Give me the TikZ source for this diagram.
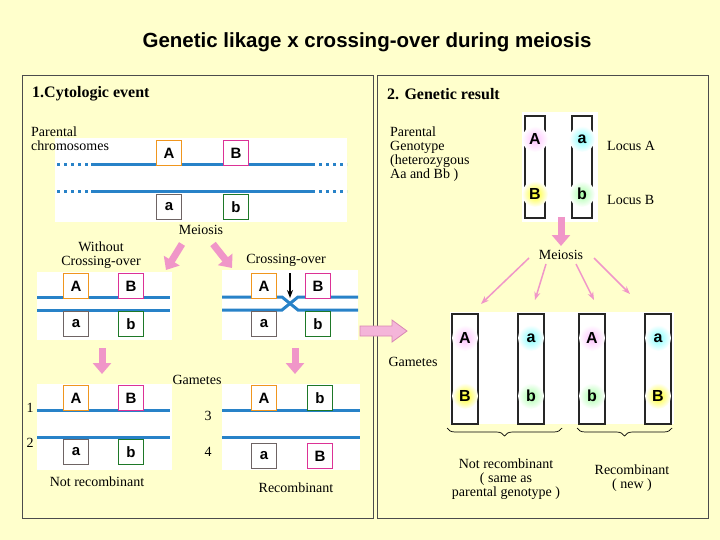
\documentclass[tikz,border=0pt]{standalone}
\usepackage{fontspec}
\setmainfont{Liberation Serif}
\newfontfamily\sansf{Liberation Sans}
\usetikzlibrary{arrows.meta,decorations.pathreplacing}
\definecolor{bgyel}{RGB}{255,255,204}
\definecolor{chrblue}{RGB}{40,130,200}
\definecolor{pinkar}{RGB}{240,150,200}
\definecolor{borange}{RGB}{240,150,30}
\definecolor{bmag}{RGB}{220,50,150}
\definecolor{bgray}{RGB}{110,100,100}
\definecolor{bgreen}{RGB}{30,120,40}
\tikzset{
  lbl/.style={font=\fontsize{14}{14}\selectfont, inner sep=0pt, align=left},
  gene/.style={draw=#1, line width=1.6pt, fill=white, minimum size=25pt, inner sep=0pt,
    font=\sansf\bfseries\fontsize{15}{15}\selectfont},
  chr/.style={chrblue, line width=3pt},
  dots/.style={chrblue, line width=3pt, dash pattern=on 3pt off 4pt},
  fat/.style={pinkar, line width=7pt, -{Triangle[width=18pt,length=11pt]}},
  thin/.style={pinkar, line width=1.5pt, -{Stealth[length=8pt]}},
  bar/.style={draw=black!85, line width=1.6pt, fill=white},
  glyph/.style={font=\sansf\bfseries\fontsize{16}{16}\selectfont, inner sep=0pt}
}
\newcommand\glowat[4]{% x,y,colour,letter
  \shade[inner color=#3, outer color=white] (#1,#2) circle (13);
  \node[glyph] at (#1,#2) {#4};}
\begin{document}
\begin{tikzpicture}[x=1pt,y=-1pt]
\fill[bgyel] (0,0) rectangle (720,540);
\useasboundingbox (0,0) rectangle (720,540);
\node[font=\sansf\bfseries\fontsize{20.5}{21}\selectfont] (title) at (367,42) {Genetic likage x crossing-over during meiosis};
\draw[black!70, line width=0.8pt] (22,75) rectangle (373,518);
\draw[black!70, line width=0.8pt] (377,75) rectangle (708,518);
\node[lbl, font=\bfseries\fontsize{16}{16}\selectfont, anchor=west] (h1) at (32,94) {1.Cytologic event};
\node[lbl, font=\bfseries\fontsize{16}{16}\selectfont, anchor=west] (h2) at (387,94) {2. Genetic result};

% parental chromosomes
\fill[white] (55,138) rectangle (347,222);
\node[lbl, anchor=north west] (par) at (31,127) {Parental\\chromosomes};
\draw[dots] (57,165) -- (88,165); \draw[chr] (91,165) -- (315,165); \draw[dots] (319,165) -- (347,165);
\draw[dots] (57,192) -- (88,192); \draw[chr] (91,192) -- (315,192); \draw[dots] (319,192) -- (347,192);
\node[gene=borange] (pA) at (169,153) {A};
\node[gene=bmag] (pB) at (236,153) {B};
\node[gene=bgray] (pa) at (169,207) {a};
\node[gene=bgreen] (pb) at (236,207) {b};
\node[lbl] (mei1) at (201,230) {Meiosis};
\draw[fat] (182,244) -- (166,270);
\draw[fat] (213,244) -- (232,268);

% without crossing-over
\fill[white] (37,272) rectangle (172,340);
\node[lbl, align=center] (wco) at (101,255) {Without\\Crossing-over};
\draw[chr] (37,297) -- (170,297); \draw[chr] (37,310) -- (170,310);
\node[gene=borange] (wA) at (76,286) {A};
\node[gene=bmag] (wB) at (131,286) {B};
\node[gene=bgray] (wa) at (76,324) {a};
\node[gene=bgreen] (wb) at (131,324) {b};

% crossing-over
\fill[white] (222,270) rectangle (358,340);
\node[lbl] (co) at (286,260) {Crossing-over};
\draw[chr] (222,297) -- (282,297) -- (298,310) -- (358,310);
\draw[chr] (222,310) -- (282,310) -- (298,297) -- (358,297);
\node[gene=borange] (cA) at (264,286) {A};
\node[gene=bmag] (cB) at (318,286) {B};
\node[gene=bgray] (ca) at (264,324) {a};
\node[gene=bgreen] (cb) at (318,324) {b};
\coordinate (xtop) at (290,273); \coordinate (xbot) at (290,298);
\draw[line width=1.5pt, -{Stealth[length=8pt]}] (xtop) -- (xbot);

\draw[fat] (102,348) -- (102,374);
\draw[fat] (295,348) -- (295,374);
\node[lbl] (gam1) at (197,380) {Gametes};

% gametes left
\fill[white] (37,384) rectangle (172,470);
\draw[chr] (37,410) -- (170,410); \draw[chr] (37,437) -- (170,437);
\node[gene=borange] (gA1) at (76,398) {A};
\node[gene=bmag] (gB1) at (131,398) {B};
\node[gene=bgray] (ga1) at (76,452) {a};
\node[gene=bgreen] (gb1) at (131,452) {b};
\node[lbl] (n1) at (30,408) {1};
\node[lbl] (n2) at (30,443) {2};
\node[lbl] (n3) at (208,416) {3};
\node[lbl] (n4) at (208,452) {4};
% gametes right
\fill[white] (222,384) rectangle (360,470);
\draw[chr] (222,410) -- (360,410); \draw[chr] (222,437) -- (360,437);
\node[gene=borange] (gA2) at (264,398) {A};
\node[gene=bgreen] (gb2) at (320,398) {b};
\node[gene=bgray] (ga2) at (264,456) {a};
\node[gene=bmag] (gB2) at (320,456) {B};
\node[lbl] (nr1) at (97,482) {Not recombinant};
\node[lbl] (rc1) at (296,488) {Recombinant};

% link arrow
\draw[pinkar!90!black, line width=0.8pt, fill=pinkar!70]
  (360,326) -- (392,326) -- (392,320) -- (407,331) -- (392,342) -- (392,336) -- (360,336) -- cycle;

% right: parental genotype
\node[lbl, anchor=north west] (pg) at (390,127) {Parental\\Genotype\\(heterozygous\\Aa and Bb )};
\fill[white] (522,112) rectangle (598,222);
\draw[bar] (525,116) rectangle (545,218);
\draw[bar] (572,116) rectangle (592,218);
\glowat{535}{139}{magenta!25}{A}
\glowat{582}{139}{cyan!50}{a}
\glowat{535}{194}{yellow!90}{B}
\glowat{582}{194}{green!35}{b}
\node[lbl, anchor=west] (la) at (607,146) {Locus A};
\node[lbl, anchor=west] (lb) at (607,200) {Locus B};
\draw[fat] (561,217) -- (561,246);
\node[lbl] (mei2) at (561,255) {Meiosis};
\draw[thin] (529,258) -- (481,304);
\draw[thin] (546,264) -- (535,300);
\draw[thin] (576,264) -- (594,300);
\draw[thin] (594,258) -- (630,294);
\node[lbl] (gam2) at (413,362) {Gametes};

% gamete bars
\fill[white] (450,312) rectangle (674,424);
\foreach \x in {452,518,579,645} \draw[bar] (\x,314) rectangle ++(26,110);
\glowat{465}{338}{magenta!25}{A}
\glowat{531}{338}{cyan!50}{a}
\glowat{592}{338}{magenta!25}{A}
\glowat{658}{338}{cyan!50}{a}
\glowat{465}{396}{yellow!90}{B}
\glowat{531}{396}{green!35}{b}
\glowat{592}{396}{green!35}{b}
\glowat{658}{396}{yellow!90}{B}
\coordinate (br1l) at (447,428); \coordinate (br1r) at (562,428);
\coordinate (br2l) at (577,428); \coordinate (br2r) at (672,428);
\draw[decorate, decoration={brace, amplitude=8pt, mirror}, line width=0.7pt] (br1l) -- (br1r);
\draw[decorate, decoration={brace, amplitude=8pt, mirror}, line width=0.7pt] (br2l) -- (br2r);
\node[lbl, align=center] (nr2) at (506,479) {Not recombinant\\( same as\\parental genotype )};
\node[lbl, align=center] (rc2) at (632,478) {Recombinant\\( new )};
\end{tikzpicture}
\end{document}
